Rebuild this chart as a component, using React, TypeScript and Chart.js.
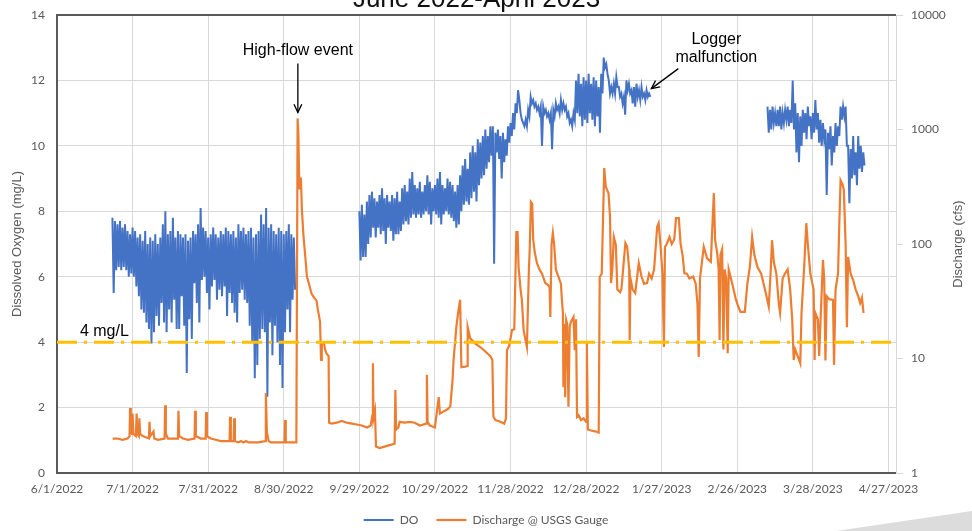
import React, { useEffect, useRef } from "react";
import { Chart, registerables } from "chart.js";

Chart.register(...registerables);

// ---------------- DATA ----------------
const TITLE = "June 2022-April 2023";
const DO_LABEL = "DO";
const Q_LABEL = "Discharge @ USGS Gauge";
const DO_AXIS_TITLE = "Dissolved Oxygen (mg/L)";
const Q_AXIS_TITLE = "Discharge (cfs)";
const THRESHOLD_LABEL = "4 mg/L";
const THRESHOLD_DO = 4;

// x values are days since 6/1/2022
const START_UTC = Date.UTC(2022, 5, 1);
const X_MAX_DAY = 333;
const X_TICK_DAYS = [0, 30, 60, 90, 120, 150, 180, 210, 240, 270, 300, 330];
const DO_TICK_STEP = 2;
const DO_MAX = 14;
const Q_TICKS = [1, 10, 100, 1000, 10000];

// DO segment 1 (daily high / low, from day 22)
const DO1_START = 22;
const DO1_HIGH = [
  7.8, 7.7, 7.6, 7.7, 7.5, 7.6, 7.4, 7.3, 7.5, 7.4,
  7.2, 7.3, 7.1, 7.4, 7.0, 7.2, 7.1, 7.3, 7.0, 7.2,
  7.6, 8.0, 7.3, 7.4, 7.8, 7.2, 7.4, 7.3, 7.2, 7.3,
  7.1, 7.2, 7.4, 7.3, 7.6, 8.1, 7.5, 7.4, 7.2, 7.3,
  7.5, 7.3, 7.2, 7.4, 7.3, 7.5, 7.4, 7.3, 7.4, 7.2,
  7.6, 7.4, 7.5, 7.3, 7.4, 7.5, 7.2, 7.3, 7.4, 7.9,
  7.6, 8.1, 7.5, 7.6, 7.4, 7.3, 7.5, 7.4, 7.3, 7.4,
  7.6, 7.3, 7.2,
];
const DO1_LOW = [
  5.5, 6.2, 6.3, 6.2, 6.3, 6.2, 6.0, 6.1, 6.0, 5.7,
  5.4, 5.0, 4.9, 4.6, 4.4, 3.96, 4.3, 4.8, 4.5, 5.2,
  4.6, 4.3, 5.0, 4.6, 5.3, 4.4, 4.4, 5.4, 4.5, 3.06,
  4.7, 4.1, 5.8, 5.2, 4.6, 5.9, 6.0, 5.5, 5.0, 5.7,
  5.9, 5.3, 5.6, 5.4, 5.7, 4.8, 5.5, 5.2, 4.9, 4.6,
  5.5, 5.6, 5.3, 5.2, 4.5, 4.0, 2.9, 3.3, 4.1, 4.4,
  4.3, 2.33, 4.6, 3.6, 4.5, 4.0, 3.3, 2.6, 4.3, 5.0,
  4.3, 5.3, 5.6,
];

// DO segment 2 (from day 120)
const DO2_START = 120;
const DO2_HIGH = [
  8.0, 8.2, 7.9, 8.3, 8.5, 8.6, 8.4, 8.3, 8.5, 8.7,
  8.4, 8.5, 8.3, 8.5, 8.4, 8.6, 8.3, 8.7, 8.8, 8.6,
  9.0, 9.2, 8.8, 8.7, 8.9, 8.6, 8.8, 9.1, 8.9, 8.7,
  8.8, 9.0, 9.2, 8.8, 8.7, 9.0, 8.9, 8.8, 8.6, 8.8,
  9.1, 9.4, 9.6, 9.3, 9.8, 10.0, 9.8, 10.2, 10.1, 10.3,
  10.5, 10.3, 10.6, 10.6, 10.4, 10.5, 10.3, 10.4, 10.2, 10.6,
  10.7, 11.0, 11.3, 11.7, 11.0, 10.7, 10.8, 11.1, 11.5, 11.4,
  11.3, 11.2, 11.2, 11.2, 11.1, 11.0, 11.0, 11.1, 11.3, 11.2,
  11.4, 11.3, 11.2, 11.0, 10.8, 11.0, 12.0, 12.2, 11.9, 12.1,
  12.0, 12.2, 11.9, 12.1, 12.0, 11.8, 12.2, 12.7, 12.5, 12.0,
  11.8, 11.9, 12.1, 11.8, 11.6, 11.5, 12.0, 11.9, 11.7, 11.8,
  11.9, 11.7, 11.8, 11.6, 11.7, 11.6,
];
const DO2_LOW = [
  6.5, 6.6, 6.6, 7.0, 7.2, 7.5, 7.2, 7.5, 7.3, 7.4,
  7.0, 7.5, 7.4, 7.1, 7.3, 7.3, 7.4, 7.6, 7.7, 7.6,
  7.8, 7.9, 7.8, 7.9, 7.8, 7.9, 8.0, 7.9, 7.6, 8.0,
  7.9, 7.8, 7.6, 7.9, 8.0, 7.9, 7.8, 7.7, 7.5, 7.6,
  8.0, 8.2, 8.3, 8.2, 8.4, 8.6, 8.3, 8.8, 9.0, 9.1,
  9.3, 9.5, 9.7, 6.4, 9.8, 9.6, 9.0, 9.5, 9.7, 10.1,
  10.3, 10.5, 11.0, 11.4, 10.8, 10.6, 10.6, 10.9, 11.3, 11.2,
  11.1, 11.0, 10.0, 11.0, 10.9, 10.8, 9.9, 10.9, 11.1, 11.0,
  11.1, 11.1, 10.9, 10.7, 10.6, 10.8, 11.0, 10.9, 10.6, 10.8,
  10.7, 11.0, 10.8, 10.6, 10.9, 10.4, 11.6, 12.4, 12.2, 11.6,
  11.6, 11.6, 11.8, 11.5, 11.3, 10.95, 11.7, 11.6, 11.3, 11.2,
  11.5, 11.4, 11.5, 11.4, 11.5, 11.5,
];

// DO segment 3 (from day 282)
const DO3_START = 282;
const DO3_HIGH = [
  11.2, 11.1, 11.2, 11.0, 11.1, 11.2, 11.0, 11.1, 11.2, 11.1,
  12.0, 11.3, 11.0, 10.9, 11.1, 11.0, 11.2, 10.9, 11.0, 11.4,
  11.0, 10.8, 10.7, 10.5, 10.4, 10.6, 10.3, 10.7, 10.6, 11.2,
  11.2, 11.2, 10.0, 9.9, 10.3, 9.8, 10.3, 10.0, 9.8,
];
const DO3_LOW = [
  10.4, 10.5, 10.7, 10.6, 10.6, 10.5, 10.7, 10.8, 10.6, 10.7,
  10.5, 9.8, 9.5, 10.0, 10.4, 10.2, 10.6, 10.2, 10.4, 10.5,
  10.1, 10.0, 10.2, 8.5, 9.9, 9.4, 9.8, 10.0, 10.3, 10.8,
  10.9, 10.0, 8.25, 9.0, 9.1, 8.8, 9.3, 9.2, 9.4,
];

// Discharge (cfs)
const Q_DAYS = [
  22.1, 24, 26, 28, 28.8, 29.0, 29.3, 29.8, 30.0, 30.3,
  31.3, 31.6, 31.9, 32.5, 32.7, 33.0, 34, 36.5, 36.7, 37.0,
  38.3, 38.6, 40, 42.7, 42.9, 43.2, 44, 46, 48.0, 48.2,
  48.5, 50, 52, 54.6, 54.8, 55.1, 57, 59.0, 59.2, 59.5,
  61, 63, 65, 67, 68.5, 68.7, 69.0, 70.1, 70.3, 70.6,
  72, 73, 74, 75, 76, 78, 80, 82.6, 82.9, 83.3,
  84, 85, 88, 90.3, 90.5, 90.8, 93, 95.0, 95.5, 95.8,
  96.2, 96.8, 97.2, 97.8, 98.5, 99.2, 100, 101, 102, 103,
  103.5, 104.4, 104.8, 105.1, 106, 106.4, 107, 107.8, 108.0, 109,
  111, 113, 115, 117, 119, 121, 123, 124.5, 125.2, 125.4,
  125.6, 126.2, 126.6, 128, 130, 132, 134.0, 134.3, 134.6, 135.5,
  136, 138, 140, 142, 144, 146.5, 146.8, 147.1, 148, 150,
  151.5, 152.0, 153, 155, 156.1, 157, 157.4, 158.5, 159.3, 160,
  160.5, 162, 162.8, 163.0, 164, 166, 168, 170, 172, 172.8,
  173.2, 174, 176, 177.5, 178.2, 178.6, 179.5, 180.6, 181.5, 182.0,
  182.3, 182.8, 183.2, 184, 184.5, 185.2, 186.5, 187.3, 187.6, 188.1,
  188.6, 189.0, 189.6, 190.5, 191.5, 192.5, 193.8, 194.8, 195.5, 195.8,
  196.3, 196.8, 197.3, 198, 199, 200, 200.4, 200.8, 201, 201.4,
  201.7, 202.1, 202.5, 203, 203.5, 204, 205, 205.5, 206, 206.4,
  207, 208, 209, 210, 210.3, 210.7, 212, 214, 215.0, 215.4,
  216.2, 217.2, 217.8, 218.9, 219.5, 219.9, 220.4, 221, 221.8, 222.4,
  223.5, 224, 225.6, 226.3, 227.1, 227.3, 227.6, 228.5, 229.5, 230.9,
  232, 233, 234.2, 235, 236, 237, 238.2, 238.8, 239.5, 240.3,
  240.9, 241.3, 242, 243.1, 244, 245, 245.7, 246.8, 247.5, 248.3,
  249, 250, 251, 252.5, 253.5, 254.2, 254.7, 255.2, 256.7, 258,
  259.5, 260.7, 261.2, 262, 262.6, 263, 263.3, 264, 264.5, 265,
  265.6, 266.2, 266.6, 267.5, 268, 269.5, 270.5, 271.3, 273, 274,
  275, 275.9, 276.8, 278, 279.5, 281, 282.5, 283.3, 283.8, 284.5,
  285.5, 286.5, 287, 288, 289, 290, 291, 291.8, 292.4, 293,
  294, 295, 295.5, 296.5, 297.4, 298, 299, 300.3, 300.7, 301,
  302, 302.5, 303, 304, 304.5, 305, 305.5, 306.5, 308, 308.4,
  309, 310, 310.5, 311, 311.8, 312.3, 313, 313.5, 314, 315,
  316, 317, 318, 318.8, 319.5, 320.1,
];
const Q_CFS = [
  2.0, 2.0, 1.95, 2.0, 2.1, 3.7, 2.3, 2.2, 3.3, 2.2,
  2.1, 3.3, 2.2, 2.1, 3.0, 2.2, 2.1, 2.0, 2.8, 2.1,
  2.3, 2.0, 1.95, 2.0, 3.9, 2.2, 2.0, 2.0, 2.0, 3.5,
  2.1, 2.0, 1.95, 2.0, 3.5, 2.1, 2.0, 2.0, 3.4, 2.1,
  2.0, 1.95, 1.9, 1.9, 1.9, 3.1, 1.9, 1.9, 3.0, 1.9,
  1.85, 1.9, 1.85, 1.9, 1.85, 1.85, 1.85, 1.9, 5.0, 2.3,
  1.9, 1.85, 1.85, 1.85, 2.9, 1.85, 1.85, 1.85, 1250, 900,
  300, 380, 200, 120, 80, 52, 45, 37, 34, 32,
  27, 21, 9.7, 14, 13.5, 12, 11, 10.5, 2.75, 2.7,
  2.75, 2.85, 2.75, 2.7, 2.65, 2.6, 2.5, 2.6, 3.2, 9.1,
  3.0, 3.5, 1.7, 1.65, 1.7, 1.75, 1.8, 5.3, 2.4, 2.5,
  2.8, 2.75, 2.8, 2.75, 2.6, 2.7, 7.2, 2.8, 2.6, 2.5,
  4.6, 3.3, 3.4, 3.6, 3.8, 6.5, 9.7, 18.8, 26, 32.5,
  8.4, 8.5, 8.6, 18.8, 15, 13.5, 12.6, 11.5, 10.5, 9.7,
  3.1, 2.9, 2.8, 2.7, 3.0, 11.8, 13, 17.7, 18, 60,
  127, 127, 63, 40, 32.5, 17.7, 12.6, 60, 88, 233,
  225, 110, 85, 68, 60, 55, 45.6, 44, 42, 23,
  100, 125, 100, 60, 52, 45, 32.5, 25, 5.6, 20,
  4.6, 21.7, 20, 3.8, 19, 21, 23, 11.8, 22, 3.1,
  3.2, 2.9, 3.0, 2.8, 13.7, 2.4, 2.35, 2.3, 2.25, 51.5,
  55, 460, 316, 278, 172, 45.6, 60, 115, 98, 40,
  38, 40, 102, 95, 60, 14.5, 50, 40, 37.3, 68,
  52, 45, 45.6, 55, 50, 60, 141, 152, 100, 55,
  12.6, 94, 100, 115, 100, 110, 168, 168, 100, 80,
  55.5, 55, 50, 52, 45, 30, 10.3, 50, 94.5, 75,
  70, 278, 108, 85, 60, 14.5, 80, 90, 12, 60,
  50, 11.1, 60, 50, 45, 32.5, 28, 25.5, 25.5, 45,
  63, 115, 80, 63, 55, 40, 28.4, 60, 108, 70,
  55, 30, 25, 50, 55.5, 60, 40, 22, 9.7, 12,
  10.5, 9.1, 25, 60, 152, 100, 55, 40, 9.7, 25,
  22, 10.5, 20, 72.6, 50, 9.6, 35, 33, 32.5, 8.8,
  40, 55.5, 150, 360, 330, 296, 100, 18.8, 77, 55,
  48.5, 40, 35, 30.5, 34, 25,
];

// annotation anchors (data units)
const HIGH_FLOW_TEXT = "High-flow event";
const HIGH_FLOW_DAY = 95.6;
const HIGH_FLOW_CFS = 1250;
const LOGGER_TEXT = ["Logger", "malfunction"];
const LOGGER_DAY = 235.9;
const LOGGER_DO = 11.75;

// ---------------- STYLE / LAYOUT ----------------
const W = 972;
const H = 531;
const BLUE = "#4472C4";
const ORANGE = "#ED7D31";
const GOLD = "#FFC000";
const AXIS_DARK = "#595959";
const GRID = "#d9d9d9";
const TICK_FONT = { family: "Lato, 'Open Sans', sans-serif", size: 12 };
const ARIAL = "'Liberation Sans', Arial, sans-serif";

function dayLabel(d: number): string {
  const dt = new Date(START_UTC + d * 86400000);
  return `${dt.getUTCMonth() + 1}/${dt.getUTCDate()}/${dt.getUTCFullYear()}`;
}

function segment(start: number, highs: number[], lows: number[]) {
  const pts: { x: number; y: number | null }[] = [];
  highs.forEach((h, i) => {
    pts.push({ x: start + i, y: h });
    pts.push({ x: start + i + 0.5, y: lows[i] });
  });
  return pts;
}

function arrow(ctx: CanvasRenderingContext2D, x1: number, y1: number, x2: number, y2: number) {
  ctx.beginPath();
  ctx.moveTo(x1, y1);
  ctx.lineTo(x2, y2);
  ctx.stroke();
  const a = Math.atan2(y2 - y1, x2 - x1);
  const L = 9;
  const w = 0.45;
  ctx.beginPath();
  ctx.moveTo(x2 - L * Math.cos(a - w), y2 - L * Math.sin(a - w));
  ctx.lineTo(x2, y2);
  ctx.lineTo(x2 - L * Math.cos(a + w), y2 - L * Math.sin(a + w));
  ctx.stroke();
}

const decorPlugin = {
  id: "decor",
  afterDraw(chart: any) {
    const { ctx, chartArea, scales } = chart;
    const x = scales.x;
    const y = scales.y;
    const yQ = scales.yQ;
    ctx.save();

    // top frame line
    ctx.strokeStyle = AXIS_DARK;
    ctx.lineWidth = 2;
    ctx.beginPath();
    ctx.moveTo(chartArea.left - 1, chartArea.top);
    ctx.lineTo(chartArea.right, chartArea.top);
    ctx.stroke();

    // title (cropped at top)
    ctx.fillStyle = "#111";
    ctx.font = `26px ${ARIAL}`;
    ctx.textAlign = "center";
    ctx.textBaseline = "alphabetic";
    ctx.fillText(TITLE, (chartArea.left + chartArea.right) / 2, chartArea.top - 8);

    // right axis title
    ctx.save();
    ctx.translate(yQ.right - 14, (chartArea.top + chartArea.bottom) / 2);
    ctx.rotate(-Math.PI / 2);
    ctx.font = `13px ${ARIAL}`;
    ctx.fillStyle = AXIS_DARK;
    ctx.textAlign = "center";
    ctx.textBaseline = "middle";
    ctx.fillText(Q_AXIS_TITLE, 0, 0);
    ctx.restore();

    // annotations
    ctx.strokeStyle = "#000";
    ctx.fillStyle = "#000";
    ctx.lineWidth = 1.3;
    ctx.font = `16px ${ARIAL}`;
    ctx.textAlign = "center";
    ctx.textBaseline = "middle";

    const hx = x.getPixelForValue(HIGH_FLOW_DAY);
    const hy = yQ.getPixelForValue(HIGH_FLOW_CFS) - 6;
    arrow(ctx, hx, hy - 49, hx, hy);
    ctx.fillText(HIGH_FLOW_TEXT, hx, hy - 62);

    const lx = x.getPixelForValue(LOGGER_DAY);
    const ly = y.getPixelForValue(LOGGER_DO);
    arrow(ctx, lx + 27, ly - 20, lx, ly);
    ctx.fillText(LOGGER_TEXT[0], lx + 65, ly - 49);
    ctx.fillText(LOGGER_TEXT[1], lx + 65, ly - 31);

    ctx.textAlign = "left";
    ctx.textBaseline = "alphabetic";
    ctx.fillText(THRESHOLD_LABEL, x.getPixelForValue(9.1), y.getPixelForValue(THRESHOLD_DO) - 6);

    // slide decoration bottom-right
    ctx.fillStyle = "#dcdcdc";
    ctx.beginPath();
    ctx.moveTo(chart.width - 136, chart.height);
    ctx.lineTo(chart.width, chart.height - 20);
    ctx.lineTo(chart.width, chart.height);
    ctx.closePath();
    ctx.fill();

    ctx.restore();
  },
};

export default function App() {
  const canvasRef = useRef<HTMLCanvasElement | null>(null);

  useEffect(() => {
    if (!canvasRef.current) return;

    const doData = [
      ...segment(DO1_START, DO1_HIGH, DO1_LOW),
      { x: DO1_START + DO1_HIGH.length + 0.5, y: null },
      ...segment(DO2_START, DO2_HIGH, DO2_LOW),
      { x: DO2_START + DO2_HIGH.length + 0.5, y: null },
      ...segment(DO3_START, DO3_HIGH, DO3_LOW),
    ];
    const n = Math.min(Q_DAYS.length, Q_CFS.length);
    const qData = Q_DAYS.slice(0, n).map((d, i) => ({ x: d, y: Q_CFS[i] }));
    const thrData = [
      { x: 0, y: THRESHOLD_DO },
      { x: X_MAX_DAY, y: THRESHOLD_DO },
    ];

    const chart = new Chart(canvasRef.current, {
      type: "line",
      data: {
        datasets: [
          {
            label: DO_LABEL,
            data: doData as any,
            yAxisID: "y",
            borderColor: BLUE,
            backgroundColor: BLUE,
            borderWidth: 2,
            pointRadius: 0,
            spanGaps: false,
            tension: 0,
            order: 2,
          },
          {
            label: Q_LABEL,
            data: qData as any,
            yAxisID: "yQ",
            borderColor: ORANGE,
            backgroundColor: ORANGE,
            borderWidth: 2.2,
            pointRadius: 0,
            tension: 0,
            order: 1,
          },
          {
            label: THRESHOLD_LABEL,
            data: thrData as any,
            yAxisID: "y",
            borderColor: GOLD,
            backgroundColor: GOLD,
            borderWidth: 3,
            borderDash: [20, 7, 3, 7],
            pointRadius: 0,
            order: 0,
          },
        ],
      },
      options: {
        animation: false,
        responsive: true,
        maintainAspectRatio: false,
        devicePixelRatio: 1,
        events: [],
        layout: { padding: { top: 15, bottom: -5, left: 0, right: 0 } },
        plugins: {
          legend: {
            position: "bottom",
            labels: {
              usePointStyle: true,
              pointStyle: "line",
              pointStyleWidth: 30,
              color: AXIS_DARK,
              font: TICK_FONT,
              padding: 18,
              filter: (item: any) => item.datasetIndex !== 2,
              sort: (a: any, b: any) => a.datasetIndex - b.datasetIndex,
            },
          },
          title: { display: false },
          tooltip: { enabled: false },
        },
        scales: {
          x: {
            type: "linear",
            position: "bottom",
            min: 0,
            max: X_MAX_DAY,
            afterBuildTicks: (s: any) => {
              s.ticks = X_TICK_DAYS.map((v) => ({ value: v }));
            },
            afterFit: (s: any) => {
              s.height = 23;
            },
            ticks: {
              autoSkip: false,
              maxRotation: 0,
              color: AXIS_DARK,
              font: TICK_FONT,
              padding: 9,
              callback: (v: any) => dayLabel(Number(v)),
            },
            grid: {
              color: (c: any) => (c.tick && c.tick.value === 0 ? "rgba(0,0,0,0)" : GRID),
              drawTicks: false,
              lineWidth: 1,
            },
            border: { color: AXIS_DARK, width: 2 },
          },
          y: {
            type: "linear",
            position: "left",
            min: 0,
            max: DO_MAX,
            afterFit: (s: any) => {
              s.width = 57;
              s.paddingTop = 0;
              s.paddingBottom = 0;
            },
            ticks: {
              stepSize: DO_TICK_STEP,
              color: AXIS_DARK,
              font: TICK_FONT,
              padding: 12,
            },
            grid: {
              color: (c: any) =>
                c.tick && (c.tick.value === 0 || c.tick.value === DO_MAX) ? "rgba(0,0,0,0)" : GRID,
              drawTicks: false,
            },
            border: { color: AXIS_DARK, width: 2 },
            title: {
              display: true,
              text: DO_AXIS_TITLE,
              color: AXIS_DARK,
              font: { family: ARIAL, size: 13 },
              padding: { top: 10, bottom: 0 },
            },
          },
          yQ: {
            type: "logarithmic",
            position: "right",
            min: 1,
            max: 10000,
            afterBuildTicks: (s: any) => {
              s.ticks = Q_TICKS.map((v) => ({ value: v }));
            },
            afterFit: (s: any) => {
              s.width = 76;
              s.paddingTop = 0;
              s.paddingBottom = 0;
            },
            ticks: {
              color: AXIS_DARK,
              font: TICK_FONT,
              padding: 8,
              callback: (v: any) => String(v),
            },
            grid: {
              drawOnChartArea: false,
              drawTicks: true,
              tickLength: 7,
              color: GRID,
            },
            border: { color: GRID, width: 1 },
          },
        },
      } as any,
      plugins: [decorPlugin],
    });

    return () => chart.destroy();
  }, []);

  return (
    <div style={{ position: "fixed", left: 0, top: 0, width: W, height: H, background: "#fff" }}>
      <canvas ref={canvasRef} />
    </div>
  );
}
